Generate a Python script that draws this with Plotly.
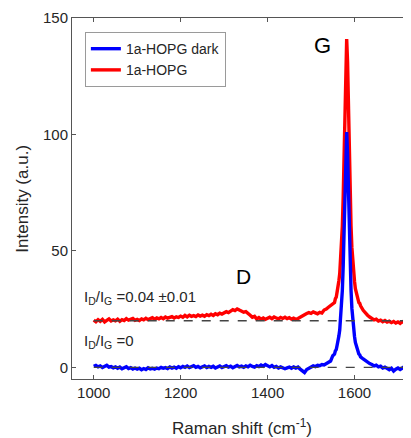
import plotly.graph_objects as go

# Raman shift grid (cm-1): coarse baseline, finer around the G band
shift = list(range(1000, 1550, 5)) + list(range(1550, 1616, 2)) + list(range(1620, 1735, 5))

# 1a-HOPG dark (blue)
dark = [
    0.4, 0.8, 0.2, 0.6, -0.1, 0.5, 0.9, 0.1, 0.3, -0.2,
    0.2, -0.4, 0.1, -0.6, -0.2, 0.3, -0.5, -0.1, -0.7, -0.3,
    -0.8, -0.4, -1.0, -0.5, -0.9, -0.2, -0.7, -0.4, -0.8, -0.3,
    -0.6, 0.0, -0.4, -0.1, -0.5, 0.2, -0.3, 0.1, -0.4, 0.3,
    -0.2, 0.4, 0.0, 0.6, -0.1, 0.3, 0.7, 0.0, 0.4, -0.2,
    0.3, 0.6, -0.1, 0.4, 0.0, 0.5, -0.3, 0.2, 0.6, -0.1,
    0.3, 0.7, 0.1, 0.5, -0.2, 0.4, 0.8, 0.2, 0.5, 0.0,
    0.6, 0.2, 0.9, 0.4, 0.1, 0.7, 0.3, 1.0, 0.5, 1.2,
    0.6, 0.2, 0.8, 0.0, 0.4, -0.3, 0.2, -0.1, -0.6, -0.2,
    0.1, -0.4, 0.2, -0.3, 0.1, -0.8, -1.4, -2.2, -0.9, -0.3,
    0.2, 0.6, 0.3, 0.9, 0.7, 1.2, 1.0, 1.6, 2.0, 2.7,
    5.0, 5.6, 5.7, 7.1, 7.6, 9.5, 10.8, 13.4, 16.0, 20.3,
    25.6, 33.0, 43.5, 57.8, 75.5, 92.5, 101.0, 92.0, 75.0, 57.5,
    43.0, 33.2, 25.3, 20.2, 15.8, 13.3, 10.7, 9.4, 7.6, 7.0,
    5.7, 5.4, 4.5,
    3.6, 2.8, 2.3, 1.6, 1.2, 0.6, 0.9, 0.2, 0.5, -0.3,
    0.1, -0.6, -1.0, -0.4, -1.6, -0.8, -0.3, -0.9, -0.2, 0.3,
    -0.4, 0.1, -0.2,
]

# 1a-HOPG (red)
hopg = [
    20.3, 19.6, 20.5, 19.8, 20.6, 19.5, 20.2, 20.8, 19.9, 20.4,
    20.0, 20.7, 19.8, 20.5, 20.1, 20.9, 20.3, 20.6, 21.0, 20.2,
    20.6, 20.1, 20.8, 20.4, 21.1, 20.5, 20.9, 21.3, 20.7, 21.2,
    20.8, 21.4, 20.9, 21.6, 21.1, 21.3, 21.8, 21.2, 21.7, 21.4,
    22.0, 21.5, 22.3, 21.7, 22.4, 21.9, 22.2, 21.8, 22.5, 22.0,
    22.4, 21.9, 22.6, 22.2, 22.8, 22.3, 23.0, 22.6, 23.3, 22.9,
    23.4, 23.9, 23.5, 24.3, 24.8, 24.4, 25.1, 24.6, 24.2, 23.7,
    23.9, 23.3, 22.4, 21.5, 21.9, 20.8, 21.4, 20.7, 21.2, 20.6,
    21.0, 21.5, 20.9, 21.6, 21.2, 20.8, 21.4, 21.0, 21.5, 20.9,
    21.3, 20.7, 21.1, 20.6, 21.0, 21.4, 21.9, 22.6, 23.1, 23.5,
    23.2, 23.8, 23.4, 23.0, 23.6, 23.3, 24.6, 25.0, 25.8, 26.5,
    27.0, 27.7, 27.8, 29.5, 30.1, 32.4, 34.0, 37.1, 40.2, 45.4,
    51.7, 60.6, 73.2, 90.4, 111.6, 132.0, 141.0, 131.4, 111.0, 90.0,
    72.6, 60.8, 51.4, 45.2, 40.0, 37.0, 33.8, 32.3, 30.1, 29.4,
    27.8, 27.5, 26.4,
    24.5, 23.3, 22.4, 21.6, 21.0, 20.4, 20.7, 19.9, 20.3, 19.6,
    20.1, 19.4, 19.8, 19.2, 19.7, 19.0, 19.5, 18.9, 19.6, 19.2,
    19.8, 19.3, 19.7,
]

baselines = [20, 0]
baseline_span = [1000, 1730]

FONT = "Liberation Sans, Arial, sans-serif"
INK = "#262626"

fig = go.Figure()
# red first so the blue sits on top of it at the G band
fig.add_trace(go.Scatter(x=shift, y=hopg, mode="lines", name="1a-HOPG",
                         line=dict(color="#ff0000", width=3.4)))
fig.add_trace(go.Scatter(x=shift, y=dark, mode="lines", name="1a-HOPG dark",
                         line=dict(color="#0000ff", width=3.4)))
for b in baselines:
    fig.add_trace(go.Scatter(x=baseline_span, y=[b, b], mode="lines",
                             showlegend=False, hoverinfo="skip",
                             line=dict(color="#444444", width=1.3, dash="dash")))

# peak labels and ratios
fig.add_annotation(x=1526, y=138, text="G", showarrow=False,
                   font=dict(size=22, color="black"))
fig.add_annotation(x=1344, y=39, text="D", showarrow=False,
                   font=dict(size=21, color="black"))
fig.add_annotation(x=974, y=30, xanchor="left",
                   text="I<sub>D</sub>/I<sub>G</sub> =0.04 \u00b10.01",
                   showarrow=False, font=dict(size=15, color=INK))
fig.add_annotation(x=974, y=11, xanchor="left",
                   text="I<sub>D</sub>/I<sub>G</sub> =0",
                   showarrow=False, font=dict(size=15, color=INK))

# axis titles placed by hand so the plot area keeps its fixed margins
fig.add_annotation(xref="paper", yref="paper", x=0.5, y=-0.133,
                   xanchor="center", yanchor="middle", showarrow=False,
                   text="Raman shift (cm<sup>-1</sup>)",
                   font=dict(size=17, color=INK))
fig.add_annotation(xref="paper", yref="paper", x=-0.147, y=0.5,
                   xanchor="center", yanchor="middle", showarrow=False,
                   textangle=-90, text="Intensity (a.u.)",
                   font=dict(size=17, color=INK))

# the page adds an 8px body margin, so the figure is 8px smaller
fig.update_layout(
    width=403, height=430,
    margin=dict(l=64, r=0, t=10, b=59, autoexpand=False),
    plot_bgcolor="white", paper_bgcolor="white",
    font=dict(family=FONT, color=INK, size=15),
    legend=dict(x=0.038, y=0.961, xanchor="left", yanchor="top",
                traceorder="reversed", bgcolor="white",
                bordercolor="#9a9a9a", borderwidth=1,
                entrywidth=120, entrywidthmode="pixels",
                font=dict(size=14, color=INK), tracegroupgap=0),
    xaxis=dict(range=[950, 1730], tickvals=[1000, 1200, 1400, 1600, 1800],
               ticks="inside", ticklen=4, tickcolor="#555555",
               showline=True, linecolor="#555555", linewidth=1, mirror="ticks",
               showgrid=False, zeroline=False, automargin=False,
               tickfont=dict(size=15, color=INK)),
    yaxis=dict(range=[-5, 150], tickvals=[0, 50, 100, 150],
               ticks="inside", ticklen=4, tickcolor="#555555",
               showline=True, linecolor="#555555", linewidth=1,
               showgrid=False, zeroline=False, automargin=False,
               tickfont=dict(size=15, color=INK)),
)

fig.write_html("out.html")
